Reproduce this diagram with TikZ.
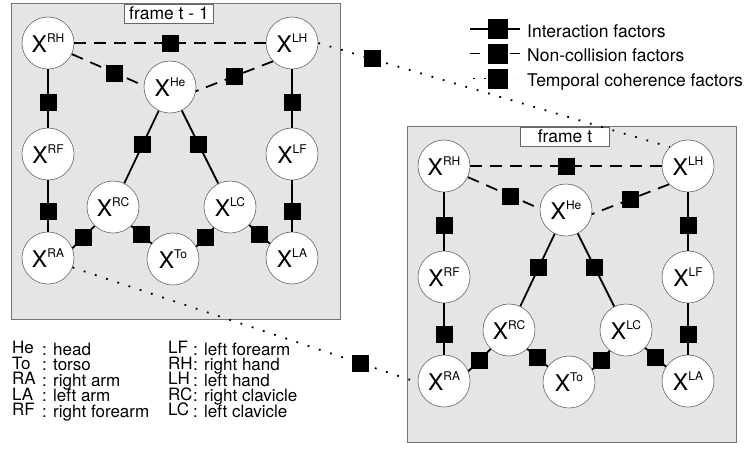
\documentclass[tikz,border=0pt]{standalone}
\usepackage{fontspec}
\setmainfont{TeX Gyre Heros}
\newcommand\hpX[1]{\fontsize{23}{23}\selectfont X\raisebox{10.5pt}{\fontsize{12}{12}\selectfont #1}}
\newcommand\hpKey[2]{\smash{\raisebox{1.5pt}{#1}} & \smash{: #2}}
\newcommand\hpGraph[2]{%
  \path[framebox] (11,3) rectangle (340,319);
  \node[flabel] (#1title) at (169,13.5) {#2};
  \node[var] (#1RH) at (48,43) {\hpX{RH}};
  \node[var] (#1LH) at (292,43) {\hpX{LH}};
  \node[var] (#1He) at (170,87) {\hpX{He}};
  \node[var] (#1RF) at (48,154) {\hpX{RF}};
  \node[var] (#1LF) at (292,154) {\hpX{LF}};
  \node[var] (#1RC) at (113,207) {\hpX{RC}};
  \node[var] (#1LC) at (230,207) {\hpX{LC}};
  \node[var] (#1RA) at (48,258) {\hpX{RA}};
  \node[var] (#1To) at (173,259) {\hpX{To}};
  \node[var] (#1LA) at (292,258) {\hpX{LA}};
  \draw[noncol] (#1RH.0) -- node[fac]{} (#1LH.180);
  \draw[noncol] (#1RH.-25) -- node[fac,pos=.6]{} (#1He.177);
  \draw[noncol] (#1LH.224) -- node[fac,pos=.5]{} (#1He.-9);
  \draw[inter] (#1RH.-90) -- node[fac,pos=.57]{} (#1RF.90);
  \draw[inter] (#1RF.-90) -- node[fac,pos=.6]{} (#1RA.90);
  \draw[inter] (#1LH.-90) -- node[fac,pos=.57]{} (#1LF.90);
  \draw[inter] (#1LF.-90) -- node[fac,pos=.6]{} (#1LA.90);
  \draw[inter] (#1He) -- node[fac,pos=.46]{} (#1RC);
  \draw[inter] (#1He) -- node[fac,pos=.46]{} (#1LC);
  \draw[inter] (#1RA.22) -- node[fac]{} (#1RC.226);
  \draw[inter] (#1RC.-46) -- node[fac]{} (#1To.144);
  \draw[inter] (#1LC.232) -- node[fac]{} (#1To.28);
  \draw[inter] (#1LC.-43) -- node[fac]{} (#1LA.147);
}
\begin{document}
\begin{tikzpicture}[x=1pt,y=-1pt,
  framebox/.style={draw=black!55, fill=black!10, line width=0.8pt},
  var/.style={circle, draw=black!60, fill=white, line width=0.6pt, minimum size=52pt, inner sep=0pt},
  fac/.style={rectangle, fill=black, minimum size=17pt, inner sep=0pt},
  legfac/.style={rectangle, fill=black, minimum size=20pt, inner sep=0pt},
  inter/.style={line width=1.8pt},
  noncol/.style={line width=1.8pt, dash pattern=on 12pt off 8pt},
  temporal/.style={line width=1.8pt, dash pattern=on 1.8pt off 10pt},
  flabel/.style={draw=black!60, fill=white, line width=0.6pt, minimum width=89pt, minimum height=19pt, inner sep=0pt, font=\fontsize{17.5}{17.5}\selectfont},
  legtext/.style={anchor=base west, inner sep=0pt, font=\fontsize{17.5}{17.5}\selectfont},
  keytext/.style={anchor=base west, inner sep=0pt, font=\fontsize{17}{15.5}\selectfont},
]
\useasboundingbox (0,0) rectangle (747,451);
\fill[white] (0,0) rectangle (747,451);

\begin{scope}
  \hpGraph{l}{frame t - 1}
\end{scope}
\begin{scope}[shift={(396,123)}]
  \hpGraph{r}{frame t}
\end{scope}

% temporal coherence factors
\draw[temporal] (lLH.0) -- node[pos=.153, fac]{} (rLH.134);
\draw[temporal] (lRA.-21) -- node[pos=.835, fac]{} (rRA.183);

% legend (top right)
\coordinate (lgIa) at (470,29); \coordinate (lgIb) at (520,29);
\draw[inter] (lgIa) -- (lgIb);
\node[legfac] (lgI) at (498,29) {};
\node[legtext] (tI) at (527,37) {Interaction factors};

\coordinate (lgNa) at (470,53.5); \coordinate (lgNb) at (520,53.5);
\draw[line width=1.8pt, dash pattern=on 10pt off 30pt] (lgNa) -- (lgNb);
\node[legfac] (lgN) at (498,53.5) {};
\node[legtext] (tN) at (527,61.5) {Non-collision factors};

\coordinate (lgTa) at (473,78.5); \coordinate (lgTb) at (517.4,78.5);
\draw[line width=1.8pt, dash pattern=on 1.8pt off 9.3pt] (lgTa) -- (lgTb);
\node[legfac] (lgT) at (498,78.5) {};
\node[legtext] (tT) at (527,86) {Temporal coherence factors};

% key (bottom left)
\node[keytext] (key1) at (12,355) {\begin{tabular}[t]{@{}p{30pt}@{}l@{}}
\hpKey{He}{head}\\
\hpKey{To}{torso}\\
\hpKey{RA}{right arm}\\
\hpKey{LA}{left arm}\\
\hpKey{RF}{right forearm}
\end{tabular}};
\node[keytext] (key2) at (168,355) {\begin{tabular}[t]{@{}p{25pt}@{}l@{}}
\hpKey{LF}{left forearm}\\
\hpKey{RH}{right hand}\\
\hpKey{LH}{left hand}\\
\hpKey{RC}{right clavicle}\\
\hpKey{LC}{left clavicle}
\end{tabular}};
\end{tikzpicture}
\end{document}
